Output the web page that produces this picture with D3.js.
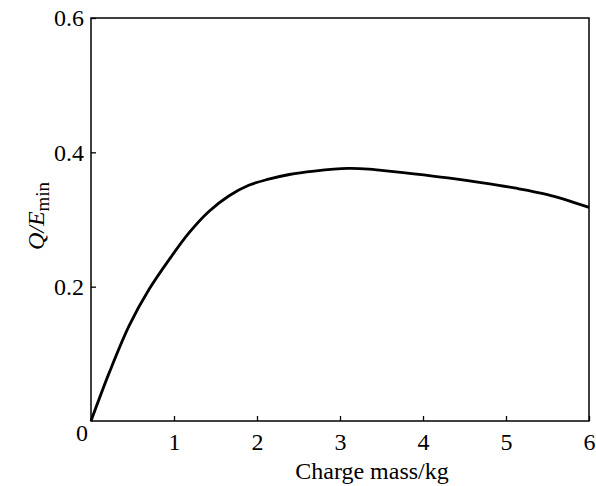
<!DOCTYPE html>
<html>
<head>
<meta charset="utf-8">
<script src="https://cdn.jsdelivr.net/npm/d3@7"></script>
<style>
body { margin: 0; background: #fff; }
text { font-family: "Liberation Serif", "Times New Roman", serif; fill: #000; }
</style>
</head>
<body>
<div id="chart"></div>
<script>
var width = 596, height = 486;
var margin = {left: 91, right: 7, top: 18, bottom: 65};

// charge mass (kg) and Q/Emin
var mass = [0, 0.22, 0.46, 0.70, 0.94, 1.18, 1.42, 1.66, 1.90, 2.14, 2.39, 2.69, 3.09, 3.35, 3.50, 3.89, 4.30, 4.70, 5.10, 5.50, 6.0];
var ratio = [0, 0.072, 0.142, 0.196, 0.240, 0.280, 0.312, 0.335, 0.351, 0.360, 0.367, 0.372, 0.376, 0.375, 0.373, 0.368, 0.362, 0.355, 0.347, 0.337, 0.318];
var xTicks = [1, 2, 3, 4, 5, 6];
var yTicks = [0.2, 0.4, 0.6];

var svg = d3.select("#chart").append("svg")
  .attr("width", width)
  .attr("height", height);

var x = d3.scaleLinear().domain([0, 6]).range([margin.left, width - margin.right]);
var y = d3.scaleLinear().domain([0, 0.6]).range([height - margin.bottom, margin.top]);

// frame
svg.append("rect")
  .attr("x", x(0)).attr("y", y(0.6))
  .attr("width", x(6) - x(0)).attr("height", y(0) - y(0.6))
  .attr("fill", "none").attr("stroke", "#000").attr("stroke-width", 1.5);

var xAxis = svg.append("g")
  .attr("transform", "translate(0," + y(0) + ")")
  .call(d3.axisBottom(x).tickValues(xTicks).tickSizeInner(-5).tickSizeOuter(0).tickPadding(12).tickFormat(d3.format("d")));
xAxis.select(".domain").remove();
xAxis.selectAll("line").attr("stroke-width", 1.3);
xAxis.selectAll("text").attr("font-size", 24).attr("font-family", "Liberation Serif");

var yAxis = svg.append("g")
  .attr("transform", "translate(" + x(0) + ",0)")
  .call(d3.axisLeft(y).tickValues(yTicks).tickSizeInner(-5).tickSizeOuter(0).tickPadding(7).tickFormat(d3.format(".1f")));
yAxis.select(".domain").remove();
yAxis.selectAll("line").attr("stroke-width", 1.3);
yAxis.selectAll("text").attr("font-size", 24).attr("font-family", "Liberation Serif");

// shared origin label
svg.append("text")
  .attr("x", x(0) - 9).attr("y", y(0) + 20)
  .attr("text-anchor", "middle").attr("font-size", 24)
  .text("0");

// curve
var line = d3.line()
  .x(function(d, i){ return x(mass[i]); })
  .y(function(d, i){ return y(ratio[i]); })
  .curve(d3.curveCatmullRom);

svg.append("path")
  .datum(ratio)
  .attr("d", line)
  .attr("fill", "none")
  .attr("stroke", "#000")
  .attr("stroke-width", 2.8);

// axis titles
svg.append("text")
  .attr("x", 372).attr("y", 479)
  .attr("text-anchor", "middle").attr("font-size", 24)
  .text("Charge mass/kg");

var yl = svg.append("text")
  .attr("transform", "translate(44," + 216 + ") rotate(-90)")
  .attr("text-anchor", "middle").attr("font-size", 24);
yl.append("tspan").attr("font-style", "italic").text("Q/E");
yl.append("tspan").attr("font-size", 19).attr("dy", 5).text("min");
</script>
</body>
</html>
